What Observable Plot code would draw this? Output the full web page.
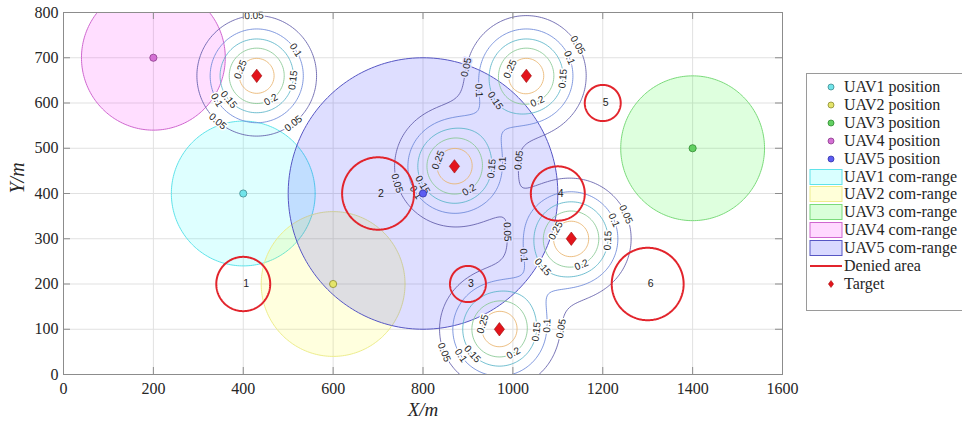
<!DOCTYPE html>
<html><head><meta charset="utf-8">
<script src="https://cdn.jsdelivr.net/npm/d3@7"></script>
<script src="https://cdn.jsdelivr.net/npm/@observablehq/plot@0.6"></script>
<style>
html,body{margin:0;padding:0;background:#fff;overflow:hidden;}
#wrap{position:relative;width:962px;height:421px;}
#legend{position:absolute;left:806px;top:73px;width:170px;height:236px;border:1px solid #9a9a9a;background:#fff;font-family:"Liberation Serif","Times New Roman",serif;font-size:16px;color:#262626;}
.row{position:absolute;left:0;height:18px;width:170px;}
.row svg{position:absolute;left:0;top:0;}
.row span{position:absolute;left:37px;top:0;line-height:18px;white-space:nowrap;}
svg .tick-serif text{font-family:"Liberation Serif","Times New Roman",serif;}
</style></head><body><div id="wrap"><div id="chart"></div><div id="legend"></div></div>
<script>
// ---- data ----
const uavNames = ["UAV1", "UAV2", "UAV3", "UAV4", "UAV5"];
const uavX = [400, 600, 1400, 200, 800];
const uavY = [400, 200, 500, 700, 400];
const uavRange = [160, 160, 160, 160, 300];

const deniedName = ["1", "2", "3", "4", "5", "6"];
const deniedX = [400, 700, 900, 1100, 1200, 1300];
const deniedY = [200, 400, 200, 400, 600, 200];
const deniedR = [60, 80, 40, 60, 40, 80];

const targetX = [430, 1030, 870, 1130, 970];
const targetY = [660, 660, 460, 300, 100];

const levels = [0.05, 0.1, 0.15, 0.2, 0.25];

// contour label anchor points (level, x, y)
const labelLevel = [0.05,0.1,0.15,0.2,0.25,0.15,0.1,0.05,0.05,
  0.05,0.1,0.15,0.2,0.25,0.15,0.1,0.05,
  0.25,0.2,0.15,0.1,0.05,0.05,0.15,0.1,
  0.05,0.1,0.15,0.2,0.25,0.15,0.1,0.05,
  0.25,0.2,0.15,0.1,0.05,0.15,0.1,0.05];
const labelX = [424,517,513,461,394,368,339,342,509,
  1144,1121,1110,1055,992,962,925,891,
  836,903,955,979,1018,740,801,780,
  1247,1225,1210,1155,1093,1062,1021,984,
  932,1003,1055,1077,1110,902,884,847];
const labelY = [792,717,650,608,674,608,605,558,558,
  728,698,654,602,676,606,628,680,
  473,407,455,466,473,422,420,400,
  352,341,296,237,319,234,263,315,
  112,44,94,108,101,38,42,49];

const xTicks = [0, 200, 400, 600, 800, 1000, 1200, 1400, 1600];
const yTicks = [0, 100, 200, 300, 400, 500, 600, 700, 800];

const legendLabels = ["UAV1 position","UAV2 position","UAV3 position","UAV4 position","UAV5 position",
  "UAV1 com-range","UAV2 com-range","UAV3 com-range","UAV4 com-range","UAV5 com-range",
  "Denied area","Target"];

// ---- styles ----
const uavBase = ["#00ffff", "#ffff00", "#00ff00", "#ff00ff", "#0000ff"];
const uavEdge = ["#5fe3ea", "#eded8c", "#7ada7a", "#cf66cf", "#5656c4"];
const uavMarker = ["#70e4ea", "#e4e46a", "#62d062", "#d470d4", "#5c5cf2"];
const uavMarkerEdge = ["#3f8a8e", "#8a8a30", "#2f8a2f", "#8a3a8a", "#3434a8"];
const fillAlpha = 0.13;
const levelColor = ["#5e5aa8", "#6a86d8", "#58b4c8", "#86c892", "#e8b46e"];
const peak = 0.29, sigma = 71;

function field(x, y) {
  let s = 0;
  for (let i = 0; i < targetX.length; i++) {
    const dx = x - targetX[i], dy = y - targetY[i];
    s += peak * Math.exp(-(dx * dx + dy * dy) / (2 * sigma * sigma));
  }
  return s;
}
function grad(x, y) {
  const h = 0.5;
  return [(field(x + h, y) - field(x - h, y)) / (2 * h), (field(x, y + h) - field(x, y - h)) / (2 * h)];
}
function ring(cx, cy, r, id) {
  const pts = [];
  for (let k = 0; k <= 240; k++) {
    const a = 2 * Math.PI * k / 240;
    pts.push({id, x: cx + r * Math.cos(a), y: cy + r * Math.sin(a)});
  }
  return pts;
}
function hexToRgb(h) { return [1, 3, 5].map(i => parseInt(h.slice(i, i + 2), 16)); }
function bgAt(x, y) {
  let c = [255, 255, 255];
  for (let i = 0; i < uavNames.length; i++) {
    const d = Math.hypot(x - uavX[i], y - uavY[i]);
    if (d < uavRange[i]) {
      const b = hexToRgb(uavBase[i]);
      c = c.map((v, k) => v * (1 - fillAlpha) + b[k] * fillAlpha);
    }
  }
  return `rgb(${c.map(Math.round).join(",")})`;
}

// snapped contour labels
const labels = labelLevel.map((lv, i) => {
  let x = labelX[i], y = labelY[i];
  for (let k = 0; k < 10; k++) {
    const v = field(x, y) - lv;
    const [gx, gy] = grad(x, y);
    const n = gx * gx + gy * gy;
    if (n < 1e-12) break;
    x -= v * gx / n; y -= v * gy / n;
  }
  const [gx, gy] = grad(x, y);
  let a = Math.atan2(-gx, -gy) * 180 / Math.PI;
  if (a > 90) a -= 180;
  if (a <= -90) a += 180;
  return {x, y, text: String(lv), rotate: a, halo: bgAt(x, y)};
});

const uavTable = uavNames.map((n, i) => ({x: uavX[i], y: uavY[i], fill: uavMarker[i], stroke: uavMarkerEdge[i]}));
const targets = targetX.map((x, i) => ({x, y: targetY[i]}));
const denied = deniedName.map((n, i) => ({x: deniedX[i], y: deniedY[i], text: n}));
const deniedRings = deniedName.flatMap((n, i) => ring(deniedX[i], deniedY[i], deniedR[i], n));

const tallDiamond = {
  draw(ctx, size) {
    const r = Math.sqrt(size / Math.PI);
    const w = r * 0.85, h = r * 1.12;
    ctx.moveTo(0, -h); ctx.lineTo(w, 0); ctx.lineTo(0, h); ctx.lineTo(-w, 0); ctx.closePath();
  }
};

const W = 962, H = 421, mL = 63, mR = 180, mT = 12, mB = 47;
const fw = W - mL - mR, fh = H - mT - mB;
const serif = "'Liberation Serif', 'Times New Roman', serif";
const sans = "'Liberation Sans', Arial, sans-serif";

const chart = Plot.plot({
  width: W, height: H,
  marginLeft: mL, marginRight: mR, marginTop: mT, marginBottom: mB,
  x: {domain: [0, 1600]},
  y: {domain: [0, 800]},
  color: {type: "identity"},
  style: {background: "#fff", overflow: "visible", fontFamily: serif},
  marks: [
    Plot.gridX(xTicks, {stroke: "#e1e1e1", strokeOpacity: 1}),
    Plot.gridY(yTicks, {stroke: "#e1e1e1", strokeOpacity: 1}),
    ...uavNames.map((n, i) => Plot.line(ring(uavX[i], uavY[i], uavRange[i], n), {
      x: "x", y: "y", fill: uavBase[i], fillOpacity: fillAlpha, stroke: uavEdge[i], strokeWidth: 1, clip: true
    })),
    ...levels.map((lv, i) => Plot.contour({
      value: field, x1: 0, x2: 1600, y1: -200, y2: 800, thresholds: [lv],
      stroke: levelColor[i], fill: "none", strokeWidth: 0.85, clip: true
    })),
    Plot.text(labels, {
      x: "x", y: "y", text: "text", rotate: "rotate", stroke: "halo", fill: "#1e1e1e",
      strokeWidth: 3, paintOrder: "stroke", fontSize: 10, fontFamily: sans
    }),
    Plot.line(deniedRings, {x: "x", y: "y", z: "id", stroke: "#e2242c", strokeWidth: 2}),
    Plot.text(denied, {x: "x", y: "y", text: "text", textAnchor: "start", fontSize: 10.5, fill: "#222",
      fontFamily: sans}),
    Plot.dot(uavTable, {x: "x", y: "y", r: 3.6, fill: "fill", stroke: "stroke", strokeWidth: 0.8}),
    Plot.dot(targets, {x: "x", y: "y", symbol: tallDiamond, r: 6, fill: "#e3141b", stroke: "#9a0a0a", strokeWidth: 0.6}),
    Plot.frame({stroke: "#8c8c8c", strokeWidth: 1}),
    Plot.ruleX(xTicks, {x: d => d, insetTop: fh - 7, stroke: "#8c8c8c"}),
    Plot.ruleX(xTicks, {x: d => d, insetBottom: fh - 7, stroke: "#8c8c8c"}),
    Plot.ruleY(yTicks, {y: d => d, insetRight: fw - 7, stroke: "#8c8c8c"}),
    Plot.ruleY(yTicks, {y: d => d, insetLeft: fw - 7, stroke: "#8c8c8c"}),
    Plot.axisX(xTicks, {tickSize: 0, tickPadding: 8, fontSize: 16, fontFamily: serif, fill: "#262626",
      label: null, tickFormat: d => String(d), className: "tick-serif"}),
    Plot.axisY(yTicks, {tickSize: 0, tickPadding: 5, fontSize: 16, fontFamily: serif, fill: "#262626",
      label: null, tickFormat: d => String(d), className: "tick-serif"}),
    Plot.text(["X/m"], {frameAnchor: "bottom", dy: 41, fontSize: 19, fontStyle: "italic", fontFamily: serif, fill: "#262626"}),
    Plot.text(["Y/m"], {frameAnchor: "left", dx: -46, rotate: -90, fontSize: 20, fontStyle: "italic", fontFamily: serif, fill: "#262626"})
  ]
});
document.getElementById("chart").appendChild(chart);

// ---- legend ----
const legend = document.getElementById("legend");
const rowStep = 17.9;
legendLabels.forEach((lab, i) => {
  const row = document.createElement("div");
  row.className = "row";
  row.style.top = (13 + i * rowStep - 9) + "px";
  let sym = "";
  if (i < 5) {
    sym = `<circle cx="24" cy="9" r="3" fill="${uavMarker[i]}" stroke="${uavMarkerEdge[i]}" stroke-width="0.8"/>`;
  } else if (i < 10) {
    const j = i - 5;
    const b = hexToRgb(uavBase[j]).map(v => Math.round(255 * (1 - 0.15) + v * 0.15));
    sym = `<rect x="3" y="1.5" width="32" height="15" fill="rgb(${b.join(",")})" stroke="${uavEdge[j]}" stroke-width="1"/>`;
  } else if (i === 10) {
    sym = `<line x1="3" x2="35" y1="9" y2="9" stroke="#e2242c" stroke-width="2"/>`;
  } else {
    sym = `<path d="M24,5.5 L26.6,9 L24,12.5 L21.4,9 Z" fill="#e3141b" stroke="#9a0a0a" stroke-width="0.5"/>`;
  }
  row.innerHTML = `<svg width="37" height="18">${sym}</svg><span>${lab}</span>`;
  legend.appendChild(row);
});
</script></body></html>
